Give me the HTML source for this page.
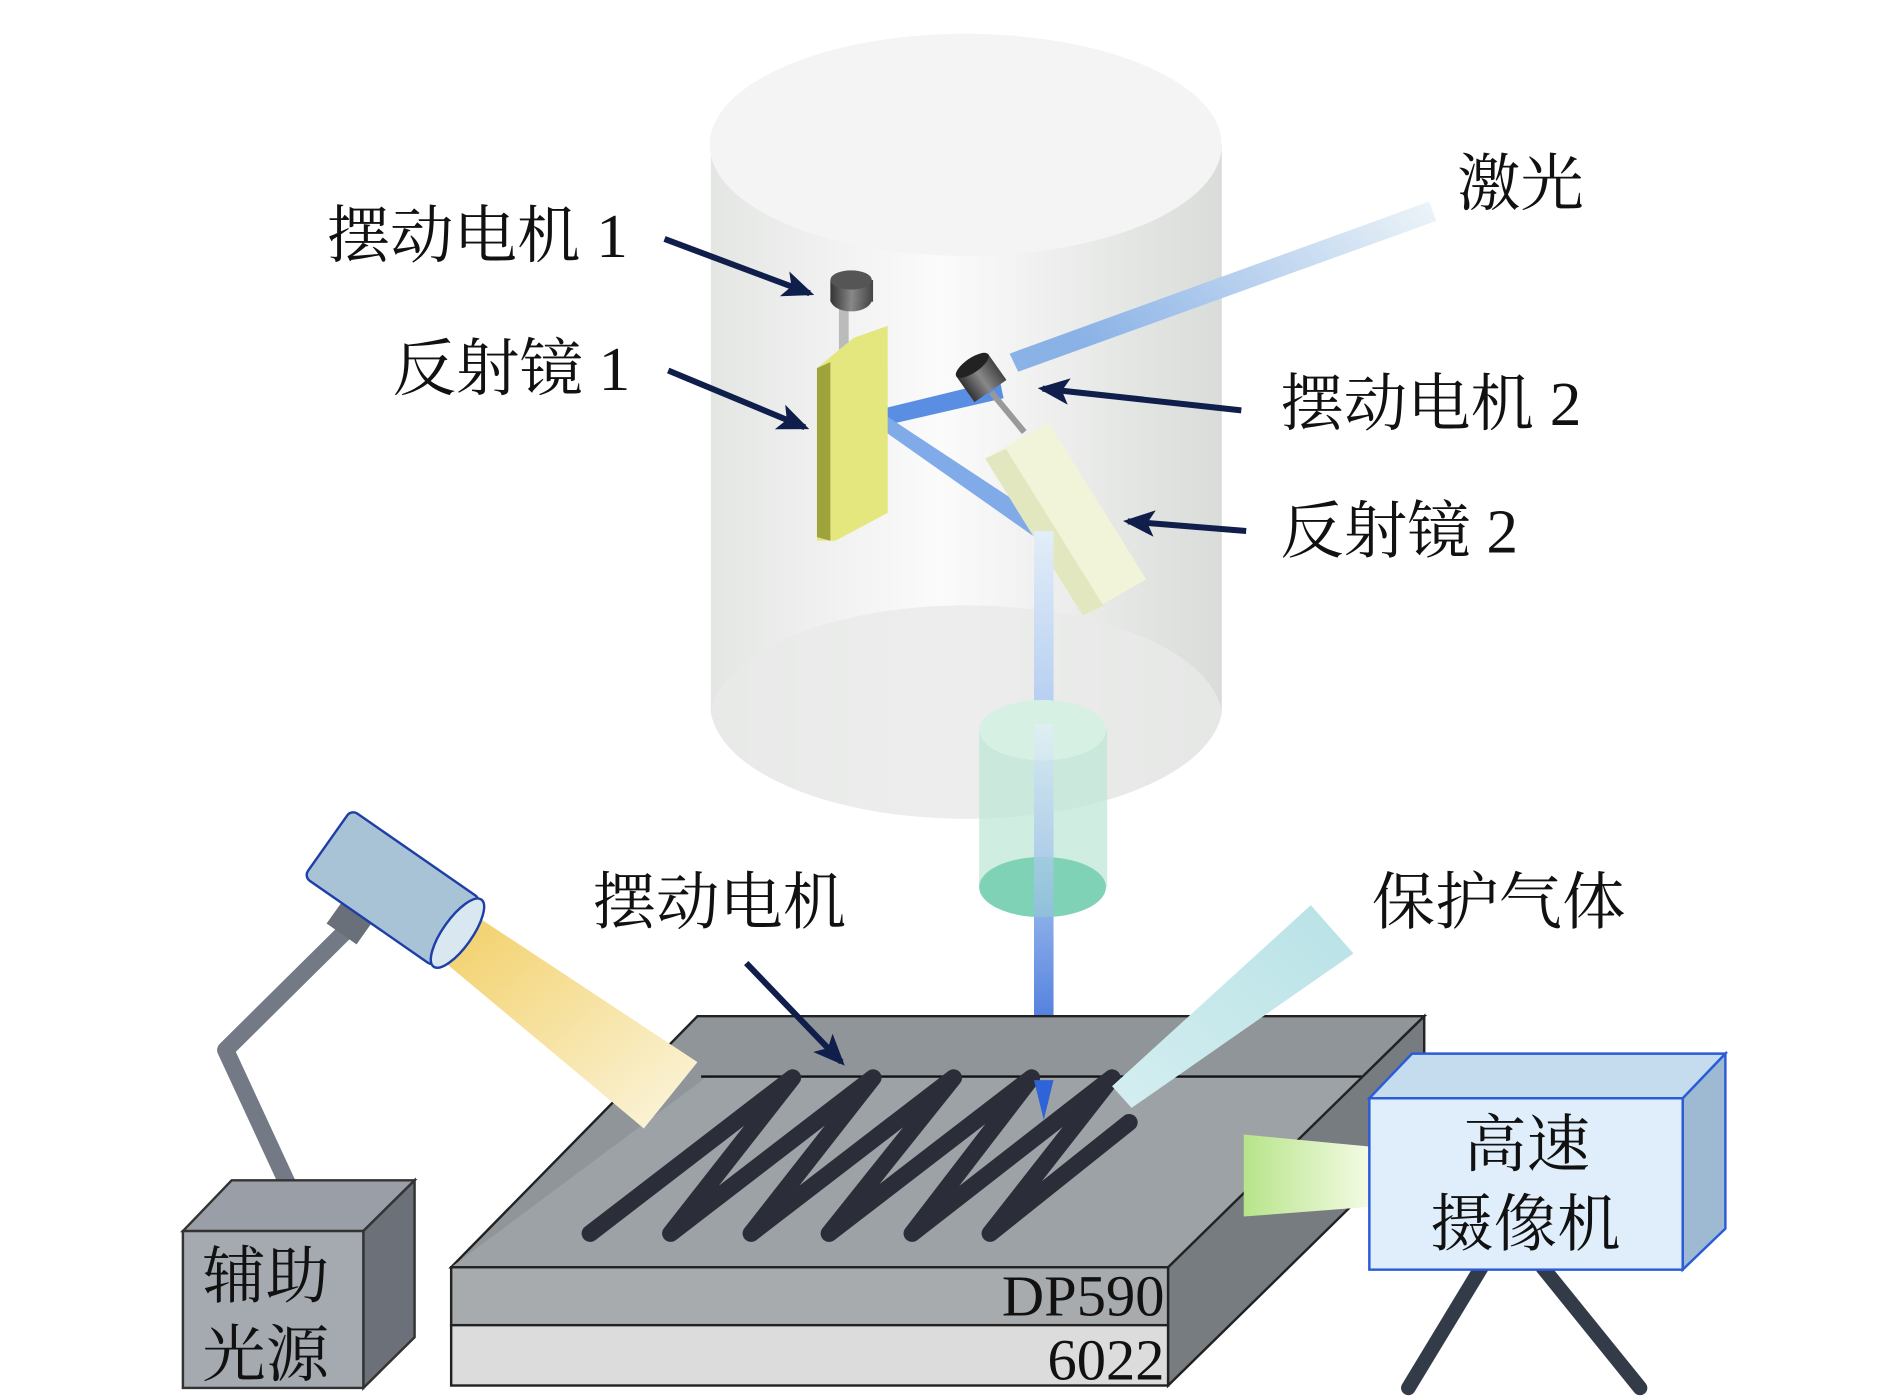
<!DOCTYPE html>
<html><head><meta charset="utf-8"><style>html,body{margin:0;padding:0;background:#fff}svg{display:block}
text{font-family:"Liberation Serif","Noto Serif CJK SC","Noto Sans CJK SC",serif;fill:#111}</style></head>
<body>
<svg width="1890" height="1400" viewBox="0 0 1550 1160" preserveAspectRatio="none" xmlns="http://www.w3.org/2000/svg">
<defs>
<linearGradient id="cyl" x1="0" x2="1"><stop offset="0" stop-color="#e4e6e4"/><stop offset="0.45" stop-color="#fbfbfb"/><stop offset="1" stop-color="#d9dcd9"/></linearGradient>
<linearGradient id="laser" x1="1" y1="0" x2="0" y2="0.4"><stop offset="0" stop-color="#eef5f8"/><stop offset="1" stop-color="#8ab2e6"/></linearGradient>
<linearGradient id="down" x1="0" y1="0" x2="0" y2="1"><stop offset="0" stop-color="#e2eef8"/><stop offset="0.5" stop-color="#9cbcec"/><stop offset="1" stop-color="#2f63d8"/></linearGradient>
<linearGradient id="yel" x1="0" y1="0" x2="1" y2="1"><stop offset="0" stop-color="#f2cf66"/><stop offset="1" stop-color="#fbf6e0"/></linearGradient>
<linearGradient id="gas" x1="1" y1="0" x2="0" y2="1"><stop offset="0" stop-color="#b8e2e6"/><stop offset="1" stop-color="#d4eef0"/></linearGradient>
<linearGradient id="cam" x1="1" x2="0"><stop offset="0" stop-color="#f4fbe4"/><stop offset="1" stop-color="#b7e48a"/></linearGradient>
<linearGradient id="mot" x1="0" x2="1"><stop offset="0" stop-color="#333"/><stop offset="0.5" stop-color="#888"/><stop offset="1" stop-color="#444"/></linearGradient>
<marker id="ah" markerWidth="26" markerHeight="22" refX="22" refY="11" orient="auto" markerUnits="userSpaceOnUse" viewBox="0 0 26 22"><path d="M0,0 L26,11 L0,22 L6,11 z" fill="#0f1e4a"/></marker>
</defs>
<path d="M583,120 L583,590 A210,95 0 0 0 1002,590 L1002,120 Z" fill="url(#cyl)"/>
<ellipse cx="792" cy="120" rx="210" ry="92" fill="#f3f4f3"/>
<path d="M583,590 A210,95 0 0 1 1002,590 A210,95 0 0 1 583,590 Z" fill="#e8eae8" opacity="0.8"/>
<polygon points="1172,167 1178,183 835,308 828,293" fill="url(#laser)"/>
<polygon points="706,343 820,315 823,330 715,355" fill="#5a8ee2"/>
<polygon points="708,345 720,340 858,432 850,446" fill="#80aae8"/>
<rect x="688" y="255" width="8" height="40" fill="#bbb"/>
<ellipse cx="698" cy="248" rx="17" ry="10" fill="url(#mot)"/>
<rect x="681" y="232" width="35" height="18" fill="url(#mot)"/>
<ellipse cx="698" cy="232" rx="17" ry="8" fill="#555"/>
<polygon points="670,305 700,280 728,270 728,425 685,448 670,448" fill="#e3e77e"/>
<polygon points="670,305 681,300 681,448 670,445" fill="#9ea33c"/>
<polygon points="808,380 860,350 940,480 888,510" fill="#f1f4d8"/>
<polygon points="808,380 825,372 905,502 888,510" fill="#e2e7c0"/>
<line x1="813" y1="325" x2="840" y2="358" stroke="#999" stroke-width="5"/>
<g transform="rotate(-35 806 315)"><rect x="790" y="300" width="32" height="26" fill="url(#mot)"/><ellipse cx="806" cy="300" rx="16" ry="6" fill="#222"/></g>
<rect x="848" y="440" width="16" height="460" fill="url(#down)"/>
<rect x="803" y="605" width="105" height="130" fill="#bfe7d6" opacity="0.75"/>
<ellipse cx="855" cy="605" rx="52" ry="25" fill="#d6f0e4"/>
<ellipse cx="855" cy="735" rx="52" ry="25" fill="#7fd2b6"/>
<rect x="848" y="600" width="16" height="300" fill="url(#down)" opacity="0.7"/>
<polygon points="572,842 1168,842 958,1050 370,1050" fill="#8f9599" stroke="#222" stroke-width="2"/>
<polygon points="580,892 1120,892 958,1050 370,1050" fill="#9da2a6"/>
<line x1="575" y1="892" x2="1122" y2="892" stroke="#111" stroke-width="2"/>
<rect x="370" y="1050" width="588" height="48" fill="#a7abae" stroke="#222" stroke-width="2"/>
<rect x="370" y="1098" width="588" height="50" fill="#dcdcdc" stroke="#222" stroke-width="2"/>
<polygon points="958,1050 1168,842 1168,940 958,1148" fill="#777c80" stroke="#222" stroke-width="2"/>
<polyline points="484,1022 650,893 550,1022 716,893 616,1022 782,893 680,1022 846,893 748,1022 912,893 812,1022 926,930" fill="none" stroke="#2b2e38" stroke-width="14" stroke-linecap="round" stroke-linejoin="round"/>
<polygon points="848,895 864,895 856,928" fill="#2f63d8"/>
<polygon points="1075,750 1110,790 928,918 912,900" fill="url(#gas)"/>
<polygon points="362,795 392,760 572,880 528,935" fill="url(#yel)"/>
<polyline points="290,765 185,870 240,990" fill="none" stroke="#747a85" stroke-width="14" stroke-linejoin="round" stroke-linecap="round"/>
<rect x="272" y="752" width="30" height="24" fill="#6a7079" transform="rotate(35 287 764)"/>
<g transform="rotate(35 318 738)"><rect x="255" y="700" width="130" height="68" rx="6" fill="#a9c3d6" stroke="#1e3fa8" stroke-width="2"/><ellipse cx="385" cy="734" rx="12" ry="34" fill="#d9e7f0" stroke="#1e3fa8" stroke-width="2"/></g>
<polygon points="150,1020 190,978 340,978 298,1020" fill="#9a9ea6" stroke="#333" stroke-width="2"/>
<polygon points="298,1020 340,978 340,1108 298,1150" fill="#6c7078" stroke="#333" stroke-width="2"/>
<rect x="150" y="1020" width="148" height="130" fill="#a5a9b0" stroke="#333" stroke-width="2"/>
<polyline points="1155,1150 1215,1050" stroke="#333a48" stroke-width="12" stroke-linecap="round" fill="none"/>
<polyline points="1265,1050 1345,1150" stroke="#333a48" stroke-width="12" stroke-linecap="round" fill="none"/>
<polygon points="1020,940 1123,950 1123,1000 1020,1008" fill="url(#cam)"/>
<polygon points="1123,910 1158,873 1415,873 1380,910" fill="#c4dcee" stroke="#2a5bd8" stroke-width="2"/>
<polygon points="1380,910 1415,873 1415,1018 1380,1052" fill="#9dbad2" stroke="#2a5bd8" stroke-width="2"/>
<rect x="1123" y="910" width="257" height="142" fill="#dfeefa" stroke="#2a5bd8" stroke-width="2"/>
<g stroke="#0f1e4a" stroke-width="5" marker-end="url(#ah)">
<line x1="545" y1="198" x2="664" y2="243"/>
<line x1="548" y1="307" x2="660" y2="354"/>
<line x1="1018" y1="340" x2="855" y2="322"/>
<line x1="1022" y1="440" x2="925" y2="432"/>
<line x1="612" y1="798" x2="690" y2="880"/>
</g>
<g font-size="52">
<text x="268" y="213">摆动电机 1</text>
<text x="322" y="323">反射镜 1</text>
<text x="1195" y="170">激光</text>
<text x="1050" y="352">摆动电机 2</text>
<text x="1050" y="458">反射镜 2</text>
<text x="486" y="765">摆动电机</text>
<text x="1125" y="765">保护气体</text>
<text x="1200" y="966">高速</text>
<text x="1173" y="1032">摄像机</text>
<text x="166" y="1075">辅助</text>
<text x="166" y="1140">光源</text>
<text x="955" y="1090" text-anchor="end" font-size="48">DP590</text>
<text x="955" y="1143" text-anchor="end" font-size="48">6022</text>
</g>
</svg>
</body></html>
